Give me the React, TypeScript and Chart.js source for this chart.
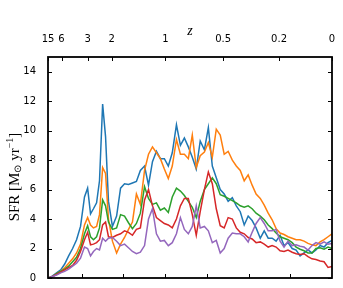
import { useEffect, useRef } from "react";
import { Chart, registerables } from "chart.js";

Chart.register(...registerables);

// Lookback time (Gyr) of each sample; the axis runs from the Big Bang (left) to today (right)
const lookbackGyr = [
  13.59, 13.4, 13.21, 13.01, 12.82, 12.63, 12.44, 12.25, 12.06, 11.87,
  11.72, 11.58, 11.44, 11.29, 11.15, 11.0, 10.86, 10.72, 10.53, 10.33,
  10.14, 9.95, 9.76, 9.57, 9.38, 9.19, 8.99, 8.8, 8.61, 8.42,
  8.23, 8.04, 7.85, 7.66, 7.46, 7.27, 7.08, 6.89, 6.7, 6.51,
  6.32, 6.12, 5.93, 5.74, 5.55, 5.36, 5.17, 4.98, 4.78, 4.59,
  4.4, 4.21, 4.02, 3.83, 3.64, 3.44, 3.25, 3.06, 2.87, 2.68,
  2.49, 2.3, 2.11, 1.91, 1.72, 1.53, 1.34, 1.15, 0.96, 0.77,
  0.57, 0.38, 0.19, 0.0,
];

const sfrBlue = [
  0.0, 0.15, 0.35, 0.55, 0.95, 1.5, 2.0, 2.6, 3.5, 5.5,
  6.1, 4.35, 4.7, 5.1, 6.6, 11.8, 9.6, 5.2, 3.5, 4.2,
  6.1, 6.4, 6.35, 6.45, 6.55, 7.3, 7.6, 6.3, 7.9, 8.6,
  8.1, 8.1, 7.6, 8.5, 10.4, 9.0, 9.5, 8.9, 8.2, 7.4,
  9.3, 8.7, 10.2, 7.6, 6.8, 6.0, 5.7, 5.2, 5.45, 4.9,
  4.5, 3.6, 4.2, 3.9, 3.4, 2.7, 3.2, 2.7, 2.7, 2.5,
  2.9, 2.2, 2.4, 2.0, 1.9, 1.5, 1.7, 1.9, 1.7, 1.9,
  2.2, 2.1, 2.4, 2.55,
];

const sfrOrange = [
  0.0, 0.1, 0.3, 0.45, 0.7, 1.0, 1.3, 1.7, 2.3, 3.6,
  4.1, 3.6, 3.4, 3.5, 4.3, 7.5, 7.1, 4.0, 2.5, 1.7,
  2.3, 2.75, 3.3, 3.8, 5.7, 5.0, 7.3, 8.4, 8.9, 8.5,
  8.1, 7.4, 6.75, 7.6, 9.4, 8.4, 8.4, 8.1, 9.7, 7.5,
  8.3, 8.55, 9.2, 8.2, 10.1, 9.7, 8.4, 8.6, 8.0, 7.6,
  7.3, 6.6, 7.0, 6.3, 5.7, 5.4, 4.95, 4.4, 3.95, 3.35,
  3.05, 2.95, 2.8, 2.7, 2.6, 2.6, 2.5, 2.35, 2.25, 2.2,
  2.45, 2.6, 2.8, 3.0,
];

const sfrGreen = [
  0.0, 0.1, 0.3, 0.45, 0.6, 0.8, 1.1, 1.4, 2.0, 3.0,
  3.55, 2.8, 2.6, 2.8, 3.4, 5.3, 4.9, 3.8, 3.3, 3.4,
  4.3, 4.2, 3.75, 3.35, 3.7, 4.4, 6.2, 5.4, 5.0, 5.1,
  4.6, 4.75, 4.45, 5.5, 6.1, 5.9, 5.6, 5.2, 4.8, 4.1,
  5.2, 6.0, 6.4, 6.8, 6.4, 5.65, 5.55, 5.4, 5.25, 5.1,
  4.9, 4.8, 4.9, 4.7, 4.4, 4.2, 3.95, 3.6, 3.35, 3.05,
  2.8, 2.7, 2.6, 2.4, 2.1, 1.95, 1.85, 1.7, 1.7, 2.0,
  2.05, 1.95, 2.1, 2.0,
];

const sfrRed = [
  0.0, 0.1, 0.25, 0.4, 0.55, 0.7, 0.85, 1.2, 1.8, 2.6,
  3.1, 2.25, 2.3, 2.4, 2.6, 3.6, 3.8, 2.8, 2.75, 2.9,
  3.0, 3.2, 3.1, 2.9, 3.3, 3.4, 5.3, 6.0, 4.9, 4.1,
  3.9, 3.7, 3.6, 3.4, 4.0, 4.9, 5.4, 5.4, 4.3, 2.9,
  4.5, 6.0, 7.2, 6.4, 4.7, 3.55, 3.4, 4.1, 4.0, 3.4,
  3.1, 3.0, 2.75, 2.65, 2.4, 2.45, 2.3, 2.1, 2.2, 2.1,
  1.85, 1.8, 1.9, 1.75, 1.65, 1.6, 1.65, 1.45, 1.3, 1.25,
  1.15, 1.1, 0.72, 0.78,
];

const sfrPurple = [
  0.0, 0.1, 0.2, 0.35, 0.45, 0.6, 0.8, 1.0, 1.35, 2.1,
  2.0, 1.5, 1.8, 2.0, 1.9, 2.7, 2.5, 2.7, 2.75, 2.5,
  2.2, 2.3, 2.05, 1.8, 1.65, 1.75, 2.2, 4.0, 4.7, 3.0,
  2.5, 2.55, 2.2, 2.4, 3.0, 4.1, 3.3, 3.0, 3.5, 4.9,
  3.4, 3.5, 3.2, 2.4, 2.55, 1.7, 2.0, 2.7, 3.05, 3.0,
  3.0, 2.8, 2.45, 3.1, 3.7, 4.1, 3.7, 3.2, 3.2, 3.3,
  2.5, 2.1, 2.5, 2.2, 2.25, 2.15, 2.1, 1.9, 2.2, 2.4,
  2.3, 2.45, 2.3, 2.35,
];

const seriesColors = ["#1f77b4", "#ff7f0e", "#2ca02c", "#d62728", "#9467bd"];

const zTickLabels = ["15", "6", "3", "2", "1", "0.5", "0.2", "0"];
const zTickLookback = [13.62, 12.97, 11.72, 10.57, 7.99, 5.22, 2.54, 0];
const timeTicks = [2, 4, 6, 8, 10, 12];
const sfrTicks = [0, 2, 4, 6, 8, 10, 12, 14];

const TICK_FONT = { family: '"DejaVu Sans", sans-serif', size: 10 };

const framePlugin = {
  id: "frameAndTitles",
  afterDraw(chart: any) {
    const { ctx, chartArea, scales } = chart;
    const { left, right, top, bottom } = chartArea;
    const L = 4;
    ctx.save();
    ctx.strokeStyle = "#000";
    ctx.lineWidth = 1;
    ctx.beginPath();
    for (const v of timeTicks) {
      const x = Math.round(scales.x.getPixelForValue(v)) + 0.5;
      ctx.moveTo(x, bottom);
      ctx.lineTo(x, bottom - L);
    }
    for (const v of zTickLookback) {
      const x = Math.round(scales.x2.getPixelForValue(v)) + 0.5;
      ctx.moveTo(x, top);
      ctx.lineTo(x, top + L);
    }
    for (const v of sfrTicks) {
      const y = Math.round(scales.y.getPixelForValue(v)) + 0.5;
      ctx.moveTo(left, y);
      ctx.lineTo(left + L, y);
      ctx.moveTo(right, y);
      ctx.lineTo(right - L, y);
    }
    ctx.stroke();
    ctx.lineWidth = 1.8;
    ctx.strokeRect(left, top, right - left, bottom - top);

    // top axis title
    ctx.fillStyle = "#000";
    ctx.font = 'italic 14px "Liberation Serif", serif';
    ctx.textAlign = "center";
    ctx.textBaseline = "middle";
    ctx.fillText("z", (left + right) / 2, 31);

    // y axis title with sub/superscripts
    const big = '15px "Liberation Serif", serif';
    const small = '10px "Liberation Serif", serif';
    const pieces = [
      { t: "SFR [M", f: big, dy: 0 },
      { t: "\u2299", f: small, dy: 3 },
      { t: " yr", f: big, dy: 0 },
      { t: "\u22121", f: small, dy: -5 },
      { t: "]", f: big, dy: 0 },
    ];
    let total = 0;
    const widths: number[] = [];
    for (const p of pieces) {
      ctx.font = p.f;
      const w = ctx.measureText(p.t).width;
      widths.push(w);
      total += w;
    }
    ctx.translate(15, 177);
    ctx.rotate(-Math.PI / 2);
    ctx.textAlign = "left";
    let cx = -total / 2;
    pieces.forEach((p, i) => {
      ctx.font = p.f;
      ctx.fillText(p.t, cx, p.dy);
      cx += widths[i];
    });
    ctx.restore();
  },
};

export default function App() {
  const canvasRef = useRef<HTMLCanvasElement | null>(null);

  useEffect(() => {
    document.body.style.margin = "0";
    const canvas = canvasRef.current;
    if (!canvas) return;
    const all = [sfrBlue, sfrOrange, sfrGreen, sfrRed, sfrPurple];
    const chart = new Chart(canvas, {
      type: "line",
      data: {
        datasets: all.map((vals, i) => ({
          data: lookbackGyr.map((t, j) => ({ x: t, y: vals[j] })),
          borderColor: seriesColors[i],
          backgroundColor: seriesColors[i],
          borderWidth: 1.5,
          pointRadius: 0,
          tension: 0,
          fill: false,
          order: 5 - i,
        })),
      },
      options: {
        responsive: false,
        animation: false,
        events: [],
        layout: { padding: { left: 0, right: 11, top: 0, bottom: 0 } },
        plugins: { legend: { display: false }, tooltip: { enabled: false } },
        scales: {
          x: {
            type: "linear",
            position: "bottom",
            reverse: true,
            min: 0,
            max: 13.62,
            ticks: { display: false },
            grid: { display: false },
            border: { display: false },
            afterFit: (s: any) => {
              s.height = 4;
            },
          },
          x2: {
            type: "linear",
            position: "top",
            reverse: true,
            min: 0,
            max: 13.62,
            afterBuildTicks: (s: any) => {
              s.ticks = zTickLookback.map((v) => ({ value: v }));
            },
            ticks: {
              autoSkip: false,
              maxRotation: 0,
              padding: 4,
              color: "#000",
              font: TICK_FONT,
              callback: (v: any) => zTickLabels[zTickLookback.indexOf(Number(v))] ?? "",
            },
            grid: { display: false },
            border: { display: false },
            afterFit: (s: any) => {
              s.height = 57;
            },
          },
          y: {
            type: "linear",
            min: 0,
            max: 15,
            afterBuildTicks: (s: any) => {
              s.ticks = sfrTicks.map((v) => ({ value: v }));
            },
            ticks: { padding: 4, color: "#000", font: TICK_FONT },
            grid: { display: false },
            border: { display: false },
            afterFit: (s: any) => {
              s.width = 48;
            },
          },
        },
      },
      plugins: [framePlugin],
    });
    return () => chart.destroy();
  }, []);

  return (
    <div style={{ width: 343, height: 288 }}>
      <canvas ref={canvasRef} width={343} height={288} />
    </div>
  );
}
